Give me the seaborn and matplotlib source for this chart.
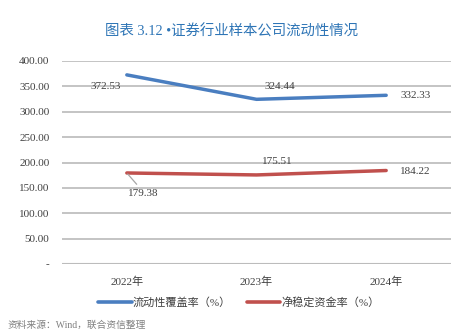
import matplotlib
matplotlib.use("Agg")
import matplotlib.pyplot as plt
import seaborn as sns
import pandas as pd
from matplotlib.lines import Line2D

years = ["2022年", "2023年", "2024年"]
lcr = [372.53, 324.44, 332.33]
nsfr = [179.38, 175.51, 184.22]
series_names = ["流动性覆盖率（%）", "净稳定资金率（%）"]
yticks = [0, 50, 100, 150, 200, 250, 300, 350, 400]
ytick_labels = ["-", "50.00", "100.00", "150.00", "200.00", "250.00", "300.00", "350.00", "400.00"]

sns.set_theme(style="white")
plt.rcParams['font.family'] = ['Liberation Serif', 'Noto Sans CJK SC', 'DejaVu Sans']

df = pd.DataFrame({
    "year": years * 2,
    "value": lcr + nsfr,
    "series": [series_names[0]] * 3 + [series_names[1]] * 3,
})

colors = {series_names[0]: "#4A7EC0", series_names[1]: "#C0504D"}

fig = plt.figure(figsize=(4.64, 3.33), dpi=100)
ax = fig.add_axes([0.1336, 0.207, 0.972 - 0.1336, 0.817 - 0.207])

sns.lineplot(data=df, x="year", y="value", hue="series", palette=colors,
             linewidth=2.5, ax=ax, legend=False, sort=False)

ax.set_ylim(0, 400)
ax.set_xlim(-0.5, 2.5)
ax.set_yticks(yticks)
ax.set_yticklabels(ytick_labels)
ax.yaxis.grid(True, color="#BFBFBF", linewidth=1.3)
ax.set_axisbelow(True)
for s in ax.spines.values():
    s.set_visible(False)
ax.axhline(0, color="#A6A6A6", linewidth=1.5, zorder=0)
ax.set_xlabel("")
ax.set_ylabel("")
ax.tick_params(axis="both", length=0, labelsize=8, colors="#404040")
ax.tick_params(axis="y", pad=9)
ax.tick_params(axis="x", pad=9)

lbl_kw = dict(fontsize=8, color="#404040")
# LCR labels
ax.annotate(f"{lcr[0]:.2f}", (0, lcr[0]), xytext=(-15, -8), textcoords="offset points", ha="center", va="center", **lbl_kw)
ax.annotate(f"{lcr[1]:.2f}", (1, lcr[1]), xytext=(17, 9.5), textcoords="offset points", ha="center", va="center", **lbl_kw)
ax.annotate(f"{lcr[2]:.2f}", (2, lcr[2]), xytext=(21, 0), textcoords="offset points", ha="center", va="center", **lbl_kw)
# NSFR labels
ax.annotate(f"{nsfr[0]:.2f}", (0, nsfr[0]), xytext=(12, -14.5), textcoords="offset points", ha="center", va="center",
            arrowprops=dict(arrowstyle="-", color="#A6A6A6", lw=0.9, shrinkA=1, shrinkB=1, relpos=(0.4, 1.0)), **lbl_kw)
ax.annotate(f"{nsfr[1]:.2f}", (1, nsfr[1]), xytext=(15, 9.5), textcoords="offset points", ha="center", va="center", **lbl_kw)
ax.annotate(f"{nsfr[2]:.2f}", (2, nsfr[2]), xytext=(21, -1), textcoords="offset points", ha="center", va="center", **lbl_kw)

fig.text(0.5, 0.904, "图表 3.12 •证券行业样本公司流动性情况", ha="center", va="center",
         fontsize=10.4, color="#2E75B6", family=['Liberation Serif', 'Noto Sans CJK SC'])

handles = [Line2D([0], [0], color=colors[n], lw=2.6) for n in series_names]
fig.legend(handles, series_names, loc="center", bbox_to_anchor=(0.515, 0.093), ncol=2,
           frameon=False, fontsize=8, handlelength=3.0, handletextpad=0.1, columnspacing=1.4,
           labelcolor="#404040")

fig.text(0.017, 0.022, "资料来源：Wind，联合资信整理", ha="left", va="center", fontsize=7, color="#808080")

fig.savefig("out.png", dpi=100)
